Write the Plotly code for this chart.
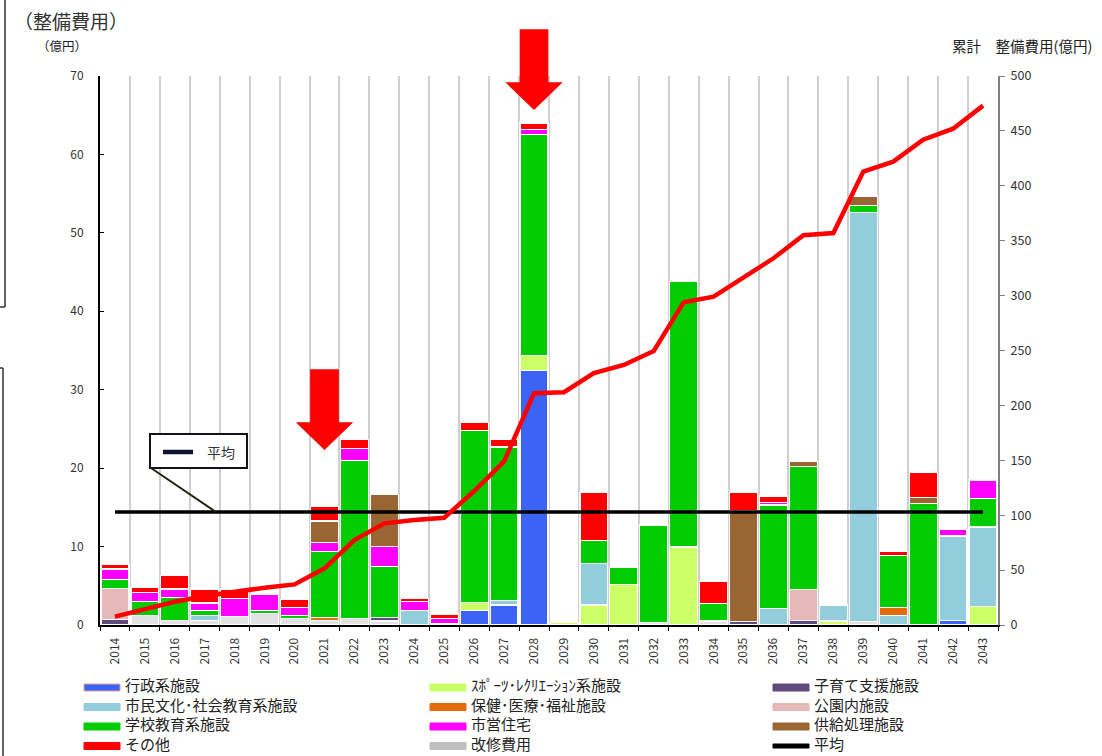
import plotly.graph_objects as go

# ---------------- data ----------------
years = ["2014", "2015", "2016", "2017", "2018", "2019", "2020", "2021", "2022", "2023",
         "2024", "2025", "2026", "2027", "2028", "2029", "2030", "2031", "2032", "2033",
         "2034", "2035", "2036", "2037", "2038", "2039", "2040", "2041", "2042", "2043"]

kaishu = [0, 1.2, 0.6, 0.6, 1.1, 1.5, 0.8, 0.6, 0.8, 0.5,
          0, 0.2, 0, 0, 0, 0, 0, 0, 0.3, 0,
          0.5, 0, 0, 0, 0, 0.4, 0, 0, 0, 0]
gyosei = [0, 0, 0, 0, 0, 0, 0, 0, 0, 0,
          0, 0, 1.9, 2.55, 32.5, 0, 0, 0, 0, 0,
          0, 0, 0, 0, 0, 0, 0, 0, 0.55, 0]
sports = [0, 0, 0, 0, 0, 0, 0, 0, 0, 0,
          0, 0, 0.95, 0, 1.9, 0.35, 2.55, 5.15, 0, 9.95,
          0, 0, 0, 0, 0.5, 0, 0, 0, 0, 2.4]
kosodate = [0.7, 0, 0, 0, 0, 0, 0, 0, 0, 0.5,
            0, 0, 0, 0, 0, 0, 0, 0, 0, 0,
            0, 0.45, 0, 0.6, 0, 0, 0, 0, 0, 0]
shimin = [0, 0, 0, 0.6, 0, 0, 0, 0, 0, 0,
          1.85, 0, 0, 0.6, 0, 0, 5.3, 0, 0, 0,
          0, 0, 2.1, 0, 2.05, 52.2, 1.2, 0, 10.8, 10.1]
hoken = [0, 0, 0, 0, 0, 0, 0, 0.4, 0, 0,
         0, 0, 0, 0, 0, 0, 0, 0, 0, 0,
         0, 0, 0, 0, 0, 0, 1.0, 0, 0, 0]
koen = [4.0, 0, 0, 0, 0, 0, 0, 0, 0, 0,
        0, 0, 0, 0, 0, 0, 0, 0, 0, 0,
        0, 0, 0, 3.95, 0, 0, 0, 0, 0, 0]
gakko = [1.1, 1.8, 2.9, 0.6, 0, 0.35, 0.45, 8.35, 20.2, 6.45,
         0, 0, 21.95, 19.55, 28.1, 0, 2.9, 2.2, 12.45, 33.85,
         2.2, 0, 13.2, 15.65, 0, 0.9, 6.65, 15.5, 0, 3.65]
shiei = [1.35, 1.1, 1.1, 1.0, 2.3, 2.05, 1.0, 1.15, 1.5, 2.55,
         1.1, 0.65, 0, 0, 0.7, 0, 0, 0, 0, 0,
         0, 0, 0.3, 0, 0, 0, 0, 0, 0.85, 2.35]
kyokyu = [0, 0, 0, 0, 0, 0, 0, 2.75, 0, 6.65,
          0, 0, 0, 0, 0, 0, 0, 0, 0, 0,
          0, 14.15, 0, 0.6, 0, 1.2, 0, 0.8, 0, 0]
sonota = [0.55, 0.7, 1.75, 1.8, 1.2, 0, 1.0, 1.85, 1.2, 0,
          0.45, 0.55, 1.0, 1.0, 0.8, 0, 6.1, 0, 0, 0,
          2.85, 2.3, 0.85, 0, 0, 0, 0.5, 3.1, 0, 0]

cumulative = [7.6, 14.3, 21.2, 26.4, 30.4, 34, 37, 51.6, 77.4, 92.6,
              95.6, 97.7, 122, 149, 211, 212, 229.5, 236.8, 249.5, 294,
              299, 317, 334, 355, 357, 413, 422, 442, 452, 473]
average = 14.4
arrow_years = ["2021", "2028"]

left_ticks = [0, 10, 20, 30, 40, 50, 60, 70]
right_ticks = [0, 50, 100, 150, 200, 250, 300, 350, 400, 450, 500]

# stacking order (bottom -> top)
series = [
    ("改修費用", kaishu, "#e2e2e2"),
    ("行政系施設", gyosei, "#3b64f4"),
    ("ｽﾎﾟｰﾂ･ﾚｸﾘｴｰｼｮﾝ系施設", sports, "#ccff66"),
    ("子育て支援施設", kosodate, "#604a7b"),
    ("市民文化･社会教育系施設", shimin, "#92cddc"),
    ("保健･医療･福祉施設", hoken, "#e46c0a"),
    ("公園内施設", koen, "#e6b9b8"),
    ("学校教育系施設", gakko, "#00cc00"),
    ("市営住宅", shiei, "#ff00ff"),
    ("供給処理施設", kyokyu, "#996633"),
    ("その他", sonota, "#ff0000"),
]
colors = {name: c for name, _, c in series}
colors["改修費用"] = "#c0c0c0"
colors["平均"] = "#000000"

# legend layout: columns (top -> bottom)
legend_cols = [
    ["行政系施設", "市民文化･社会教育系施設", "学校教育系施設", "その他"],
    ["ｽﾎﾟｰﾂ･ﾚｸﾘｴｰｼｮﾝ系施設", "保健･医療･福祉施設", "市営住宅", "改修費用"],
    ["子育て支援施設", "公園内施設", "供給処理施設", "平均"],
]

# ---------------- geometry helpers ----------------
W, H = 1102, 756
ML, MR, MT, MB = 100, 104, 76, 131
PW, PH = W - ML - MR, H - MT - MB


def px(x):
    return (x - ML) / PW


def py(y):
    return (H - MB - y) / PH


FONT = "Noto Sans CJK JP, Noto Sans, sans-serif"

fig = go.Figure()

for name, vals, col in series:
    fig.add_trace(go.Bar(
        x=years, y=[v if v else None for v in vals], name=name,
        marker=dict(color=col, line=dict(color="white", width=1.2)),
        showlegend=False, yaxis="y",
    ))

fig.add_trace(go.Scatter(
    x=years, y=[average] * len(years), mode="lines", name="平均",
    line=dict(color="black", width=3.5), showlegend=False, yaxis="y",
))

fig.add_trace(go.Scatter(
    x=years, y=cumulative, mode="lines", name="累計",
    line=dict(color="#ff0000", width=4.5), showlegend=False, yaxis="y2",
))

shapes = []
annotations = []

# red down arrows
for yr in arrow_years:
    c = years.index(yr)
    top, base, tip = (0.4657, 0.3692, 0.3188) if yr == "2021" else (1.085, 0.9885, 0.938)
    sh, hh = 0.48, 0.96
    path = (f"M {c - sh},{top} L {c + sh},{top} L {c + sh},{base} L {c + hh},{base} "
            f"L {c},{tip} L {c - hh},{base} L {c - sh},{base} Z")
    shapes.append(dict(type="path", path=path, xref="x", yref="paper",
                       fillcolor="#ff0000", line=dict(width=0), layer="above"))

# "平均" callout box
shapes.append(dict(type="rect", xref="paper", yref="paper",
                   x0=px(150), x1=px(247), y0=py(468), y1=py(434),
                   line=dict(color="#111122", width=2), fillcolor="white", layer="above"))
shapes.append(dict(type="line", xref="paper", yref="paper",
                   x0=px(163), x1=px(193), y0=py(452), y1=py(452),
                   line=dict(color="#0d1530", width=4.5), layer="above"))
shapes.append(dict(type="line", xref="paper", yref="paper",
                   x0=px(151), x1=px(216), y0=py(468), y1=py(512),
                   line=dict(color="#222211", width=2), layer="above"))
annotations.append(dict(text="平均", xref="paper", yref="paper", x=px(205), y=py(452),
                        xanchor="left", yanchor="middle", showarrow=False,
                        font=dict(size=14, color="#333", family=FONT)))

# page frame fragments on the left edge
shapes.append(dict(type="line", xref="paper", yref="paper", x0=px(5), x1=px(5),
                   y0=py(0), y1=py(307), line=dict(color="#333", width=1.5)))
shapes.append(dict(type="line", xref="paper", yref="paper", x0=px(0), x1=px(5),
                   y0=py(307), y1=py(307), line=dict(color="#333", width=1.5)))
shapes.append(dict(type="line", xref="paper", yref="paper", x0=px(3), x1=px(3),
                   y0=py(368), y1=py(756), line=dict(color="#333", width=1.5)))
shapes.append(dict(type="line", xref="paper", yref="paper", x0=px(0), x1=px(3),
                   y0=py(368), y1=py(368), line=dict(color="#333", width=1.5)))

# manual legend (3 columns x 4 rows); one text block per column
LEG_FONT = 15
line_gap = LEG_FONT * 1.3
last_row_center = 746
col_x = [84, 430, 773]
for ci, names in enumerate(legend_cols):
    x0 = col_x[ci]
    n = len(names)
    for ri, name in enumerate(names):
        yc = last_row_center - (n - 1 - ri) * line_gap
        thick = 4 if name == "平均" else 7
        shapes.append(dict(type="rect", xref="paper", yref="paper",
                           x0=px(x0), x1=px(x0 + 36), y0=py(yc + thick / 2), y1=py(yc - thick / 2),
                           fillcolor=colors[name],
                           line=dict(color="#e6a0a0" if name == "行政系施設" else colors[name], width=1)))
    annotations.append(dict(text="<br>".join(names), xref="paper", yref="paper",
                            x=px(x0 + 39), y=py(H - 0.5),
                            xanchor="left", yanchor="bottom", align="left", showarrow=False,
                            font=dict(size=LEG_FONT, color="#222", family=FONT)))

# texts
annotations.append(dict(text="（整備費用）", xref="paper", yref="paper", x=px(12), y=py(20),
                        xanchor="left", yanchor="middle", showarrow=False,
                        font=dict(size=19, color="#333", family=FONT)))
annotations.append(dict(text="（億円）", xref="paper", yref="paper", x=px(35), y=py(46),
                        xanchor="left", yanchor="middle", showarrow=False,
                        font=dict(size=12.5, color="#222", family=FONT)))
annotations.append(dict(text="累計　整備費用(億円)", xref="paper", yref="paper", x=px(1094), y=py(46),
                        xanchor="right", yanchor="middle", showarrow=False,
                        font=dict(size=14.5, color="#222", family=FONT)))

fig.update_layout(
    width=W, height=H,
    margin=dict(l=ML, r=MR, t=MT, b=MB, pad=0),
    paper_bgcolor="white", plot_bgcolor="white",
    barmode="stack", bargap=0.065,
    font=dict(family=FONT, color="#333"),
    showlegend=False,
    shapes=shapes, annotations=annotations,
    xaxis=dict(type="category", categoryorder="array", categoryarray=years,
               tickangle=-90, tickson="boundaries", showgrid=True,
               gridcolor="#cfcfcf", gridwidth=1.5,
               showline=True, linecolor="black", linewidth=2,
               ticks="outside", ticklen=4, tickcolor="black",
               tickfont=dict(size=12, color="#333"), ticklabelstandoff=6),
    yaxis=dict(range=[0, 70], tickvals=left_ticks, showgrid=False, zeroline=False,
               showline=True, linecolor="black", linewidth=2,
               ticks="inside", ticklen=4, tickcolor="black",
               tickfont=dict(size=12, color="#333"), ticklabelstandoff=12),
    yaxis2=dict(range=[0, 500], tickvals=right_ticks, overlaying="y", side="right",
                showgrid=False, zeroline=False,
                showline=True, linecolor="#808080", linewidth=2,
                ticks="outside", ticklen=5, tickcolor="#808080",
                tickfont=dict(size=12.5, color="#333"), ticklabelstandoff=3),
)

fig.write_html("out.html", config={"displayModeBar": False},
               post_script="document.body.style.margin='0px';document.body.style.overflow='hidden';")
